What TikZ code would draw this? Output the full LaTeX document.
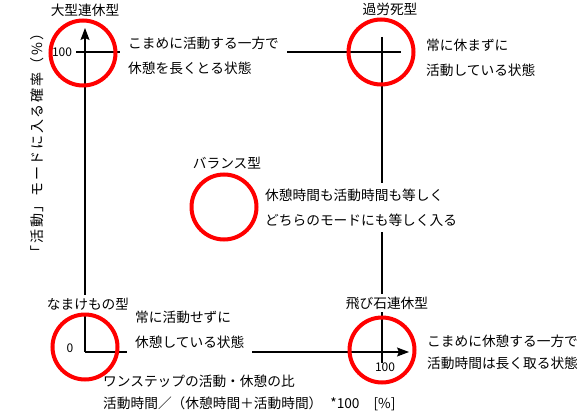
\documentclass[tikz,border=0pt]{standalone}
\usepackage{fontspec}
\setmainfont{Noto Sans CJK JP}
\newfontfamily\ylabelfont[LetterSpace=12]{Noto Sans CJK JP}
\usetikzlibrary{arrows.meta,positioning}

\begin{document}
\begin{tikzpicture}[
  x=1pt,y=-1pt,
  spot/.style={draw=red,line width=4pt,circle,minimum size=65pt,inner sep=0pt},
  typename/.style={font=\fontsize{13.7}{16}\selectfont,fill=white,inner xsep=2pt,inner ysep=3pt},
  desc/.style={font=\fontsize{13.7}{25}\selectfont,align=left,anchor=west,fill=white,inner xsep=8pt,inner ysep=6pt},
  num/.style={font=\fontsize{12}{14}\selectfont,inner sep=0pt},
  axis/.style={line width=1.2pt},
  arrow/.style={-{Stealth[length=12pt,width=9pt,inset=2pt]},line width=1.2pt}
]
  \useasboundingbox (0,0) rectangle (580,412);

  % Axes
  \coordinate (o) at (85,352);
  \coordinate (ytop) at (85,28);
  \coordinate (xend) at (409,352);
  \coordinate (hl) at (76,52);
  \coordinate (hr) at (401,52);
  \coordinate (vt) at (382,37);
  \coordinate (vb) at (382,363);
  \draw[arrow] (o) -- (ytop);
  \draw[arrow] (o) -- (xend);
  \draw[axis] (hl) -- (hr);
  \draw[axis] (vt) -- (vb);

  % Tick values and axis titles
  \node[num] (y100) at (62,52) {100};
  \node[num] (zero) at (70,348) {0};
  \node[num] (x100) at (385,367) {100};
  \node[font=\fontsize{14}{16}\ylabelfont,rotate=90] (ylabel) at (37,143) {「活動」モードに入る確率（\%）};
  \node[desc,font=\fontsize{13.7}{22}\selectfont,fill=none] (xlabel) at (95,393)
    {ワンステップの活動・休憩の比\\
     活動時間／（休憩時間＋活動時間）\hspace{8pt}*100\hspace{14pt}[\%]};

  % Types
  \node[typename] (tlname) at (85,10) {大型連休型};
  \node[typename] (trname) at (390,9) {過労死型};
  \node[typename] (midname) at (227,163) {バランス型};
  \node[typename] (blname) at (88,304) {なまけもの型};
  \node[typename] (brname) at (387,303) {飛び石連休型};

  % Descriptions
  \node[desc] (tldesc) at (120,55.5) {こまめに活動する一方で\\休憩を長くとる状態};
  \node[desc] (trdesc) at (418,57.5) {常に休まずに\\活動している状態};
  \node[desc] (middesc) at (257,207.5) {休憩時間も活動時間も等しく\\どちらのモードにも等しく入る};
  \node[desc] (bldesc) at (127,329.5) {常に活動せずに\\休憩している状態};
  \node[desc,font=\fontsize{13.7}{22}\selectfont] (brdesc) at (419,352.5) {こまめに休憩する一方で\\活動時間は長く取る状態};

  % Circles
  \node[spot] (tl) at (83,53) {};
  \node[spot] (tr) at (381,52) {};
  \node[spot] (mid) at (224,207) {};
  \node[spot] (bl) at (85,347) {};
  \node[spot] (br) at (382,350) {};
\end{tikzpicture}
\end{document}
